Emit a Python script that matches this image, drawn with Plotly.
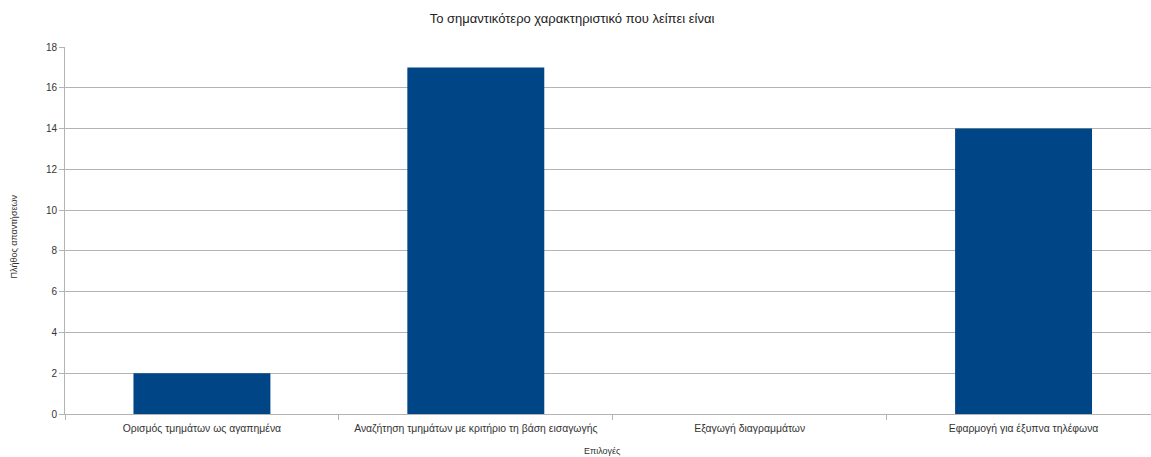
import plotly.graph_objects as go

categories = [
    "Ορισμός τμημάτων ως αγαπημένα",
    "Αναζήτηση τμημάτων με κριτήριο τη βάση εισαγωγής",
    "Εξαγωγή διαγραμμάτων",
    "Εφαρμογή για έξυπνα τηλέφωνα",
]
values = [2, 17, 0, 14]
y_ticks = [0, 2, 4, 6, 8, 10, 12, 14, 16, 18]

W, H = 1151, 457
ml, mr, mt, mb = 64.5, 0, 47, 43
font = "Liberation Sans, Arial, sans-serif"

fig = go.Figure(go.Bar(
    x=categories, y=values, width=0.5,
    marker=dict(color="#004586", line=dict(width=0)),
))

fig.update_layout(
    width=W, height=H,
    margin=dict(l=ml, r=mr, t=mt, b=mb, pad=0),
    paper_bgcolor="white", plot_bgcolor="white",
    showlegend=False,
    font=dict(family=font, size=10, color="#333333"),
    title=dict(text="Το σημαντικότερο χαρακτηριστικό που λείπει είναι",
               x=0.497, xanchor="center", y=1 - 18 / H, yanchor="middle",
               font=dict(size=13, color="#222222", family=font)),
)
fig.update_xaxes(
    type="category", range=[-0.5, 3.5 - 9.5 / 274],
    tickson="boundaries", ticks="outside", ticklen=5, tickcolor="#b3b3b3",
    ticklabelstandoff=5,
    showline=True, linecolor="#b3b3b3", linewidth=1,
    showgrid=False, tickfont=dict(size=10.4, color="#333333"),
)
fig.update_yaxes(
    range=[0, 18], tickvals=y_ticks, ticks="outside", ticklen=5,
    tickcolor="#b3b3b3", showline=True, linecolor="#b3b3b3", linewidth=1,
    showgrid=True, gridcolor="#b3b3b3", gridwidth=1, zeroline=False,
    tickfont=dict(size=10, color="#333333"),
)
fig.add_annotation(text="Επιλογές", xref="paper", yref="paper",
                   x=(602 - ml) / (W - ml), y=-(451 - (H - mb)) / (H - mt - mb),
                   xanchor="center", yanchor="middle", showarrow=False,
                   font=dict(size=9, color="#333333"))
fig.add_annotation(text="Πλήθος απαντήσεων", xref="paper", yref="paper",
                   x=-(ml - 13) / (W - ml), y=((H - mb) - 237) / (H - mt - mb),
                   xanchor="center", yanchor="middle", showarrow=False, textangle=-90,
                   font=dict(size=9, color="#333333"))

fig.write_html("out.html")
